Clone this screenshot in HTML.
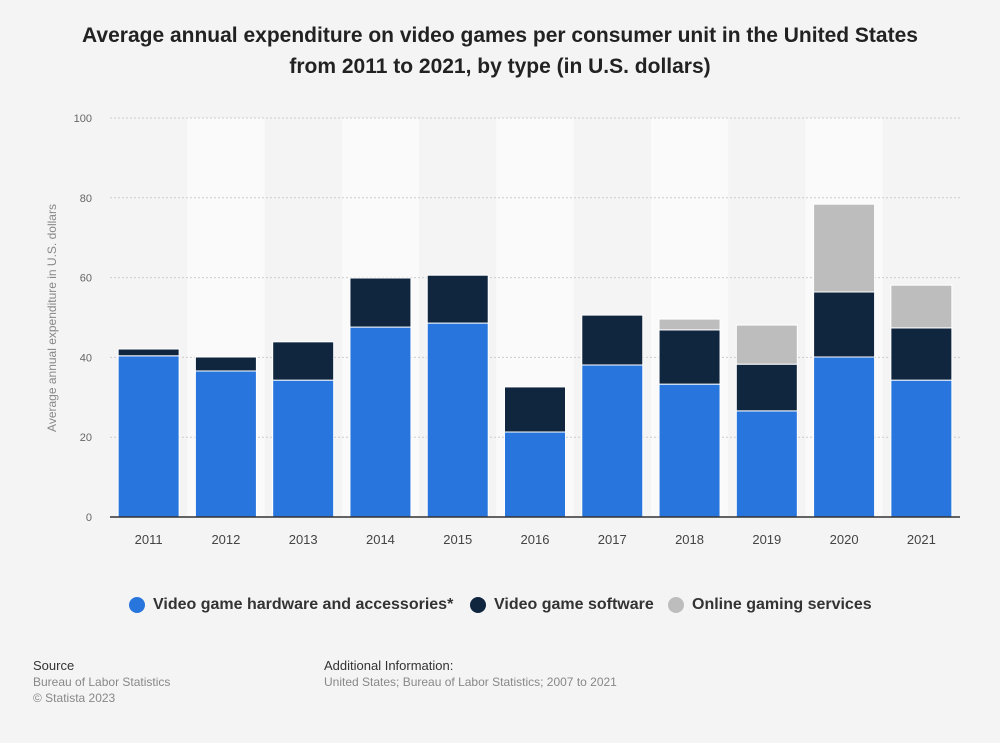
<!DOCTYPE html>
<html><head><meta charset="utf-8"><style>
body{margin:0;background:#f4f4f4;font-family:"Liberation Sans",sans-serif;}
#wrap{position:relative;width:1000px;height:743px;overflow:hidden;}
.title{position:absolute;left:0;width:1000px;top:20px;text-align:center;font-weight:bold;font-size:21px;line-height:31px;color:#222;}
.foot{position:absolute;font-size:12px;color:#888;line-height:16px;}
.foot b{color:#333;font-weight:normal;font-size:13px;}
.leg{position:absolute;top:596px;font-size:16px;font-weight:bold;color:#333;display:flex;align-items:center;}
.leg span.d{width:16px;height:16px;border-radius:50%;display:inline-block;margin-right:8px;}
</style></head><body>
<div id="wrap">
<div class="title">Average annual expenditure on video games per consumer unit in the United States<br>from 2011 to 2021, by type (in U.S. dollars)</div>
<svg id="svg" width="1000" height="743" style="position:absolute;left:0;top:0"></svg>
<div class="leg" style="left:129px"><span class="d" style="background:#2876dd"></span>Video game hardware and accessories*</div>
<div class="leg" style="left:470px"><span class="d" style="background:#10263f"></span>Video game software</div>
<div class="leg" style="left:668px"><span class="d" style="background:#bdbdbd"></span>Online gaming services</div>
<div class="foot" style="left:33px;top:658px"><b>Source</b><br>Bureau of Labor Statistics<br>© Statista 2023</div>
<div class="foot" style="left:324px;top:658px"><b>Additional Information:</b><br>United States; Bureau of Labor Statistics; 2007 to 2021</div>
</div>
<script>
const categories=["2011","2012","2013","2014","2015","2016","2017","2018","2019","2020","2021"];
const hardware=[40.4,36.6,34.3,47.6,48.6,21.3,38.1,33.3,26.6,40.1,34.3];
const software=[1.7,3.5,9.6,12.3,12.0,11.3,12.5,13.6,11.7,16.3,13.1];
const online=[0,0,0,0,0,0,0,2.7,9.8,22.0,10.7];
const yTicks=[0,20,40,60,80,100];
const NS="http://www.w3.org/2000/svg";
const svg=document.getElementById('svg');
const x0=110,x1=960,yb=517,yt=118;
const bw=(x1-x0)/categories.length;
const y=v=>yb-(v/100)*(yb-yt);
const xc=i=>x0+bw*(i+0.5);
function mk(t,a){const e=document.createElementNS(NS,t);for(const k in a)e.setAttribute(k,a[k]);svg.appendChild(e);return e;}
categories.forEach((c,i)=>{if(i%2===1){const r=mk('rect',{x:x0+bw*i,y:yt,width:bw,height:yb-yt,fill:'#fafafa'});

}});
yTicks.forEach(t=>{if(t>0){const l=mk('line',{x1:x0,x2:x1,y1:y(t),y2:y(t),stroke:'#ccc','stroke-dasharray':'2,2'});

}
const tx=mk('text',{x:92,y:y(t)+4,'text-anchor':'end','font-size':11,fill:'#666','font-family':'Liberation Sans'});tx.textContent=t;

});
const yt2=mk('text',{x:56,y:318,transform:'rotate(-90 56 318)','text-anchor':'middle','font-size':12,fill:'#888','font-family':'Liberation Sans'});yt2.textContent='Average annual expenditure in U.S. dollars';


const series=[[hardware,'#2876dd','hardware'],[software,'#10263f','software'],[online,'#bdbdbd','online']];
categories.forEach((c,i)=>{let base=0;series.forEach(([arr,col,n])=>{const v=arr[i];if(v>0){
const r=mk('rect',{x:xc(i)-30.5,y:y(base+v),width:61,height:y(base)-y(base+v),fill:col,stroke:'#fff','stroke-width':1});

}base+=v;});
const tx=mk('text',{x:xc(i),y:544,'text-anchor':'middle','font-size':13,fill:'#444','font-family':'Liberation Sans'});tx.textContent=c;

});
const ax=mk('line',{x1:x0,x2:x1,y1:yb,y2:yb,stroke:'#333','stroke-width':1.5});


</script>
</body></html>
